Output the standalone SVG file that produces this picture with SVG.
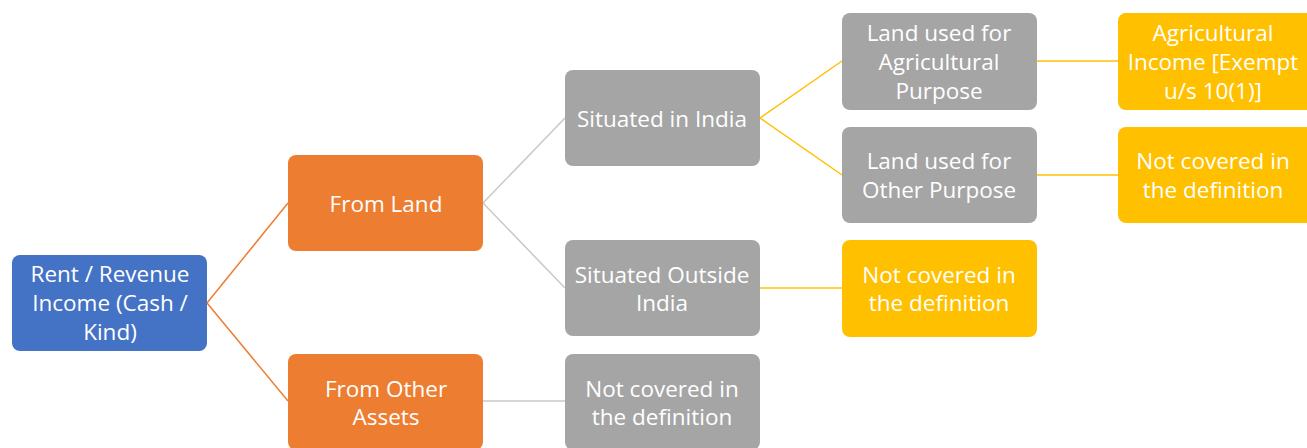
<svg xmlns="http://www.w3.org/2000/svg" width="1307" height="448" viewBox="0 0 1307 448">
<style>
.box{stroke:none}
.blue{fill:#4472C4}
.orange{fill:#ED7D31}
.gray{fill:#A5A5A5}
.yellow{fill:#FFC000}
text{font-family:"Open Sans","Liberation Sans",sans-serif;font-size:22.5px;fill:#FFFFFF;text-anchor:middle;dominant-baseline:central}
.c{fill:none;stroke-width:1.5}
.co{stroke:#ED7D31}
.cg{stroke:#C8C8C8}
.cy{stroke:#FFC000}
</style>
<rect width="1307" height="448" fill="#FFFFFF"/>
<g id="connectors">
<path class="c co" d="M207,303 L288,203"/>
<path class="c co" d="M207,303 L288,401"/>
<path class="c cg" d="M483,203 L565,118"/>
<path class="c cg" d="M483,203 L565,288"/>
<path class="c cg" d="M483,401 L565,401"/>
<path class="c cy" d="M760,118 L842,61"/>
<path class="c cy" d="M760,118 L842,175"/>
<path class="c cy" d="M760,288 L842,288"/>
<path class="c cy" d="M1036,61 L1118,61"/>
<path class="c cy" d="M1036,175 L1118,175"/>
</g>
<g id="n-rent">
<rect class="box blue" x="12" y="255" width="195" height="96" rx="8"/>
<text x="110" y="273">Rent / Revenue</text>
<text x="110" y="302">Income (Cash /</text>
<text x="110" y="331">Kind)</text>
</g>
<g id="n-fromland">
<rect class="box orange" x="288" y="155" width="195" height="96" rx="8"/>
<text x="386" y="203">From Land</text>
</g>
<g id="n-fromother">
<rect class="box orange" x="288" y="354" width="195" height="96" rx="8"/>
<text x="386" y="388">From Other</text>
<text x="386" y="416">Assets</text>
</g>
<g id="n-india">
<rect class="box gray" x="565" y="70" width="195" height="96" rx="8"/>
<text x="662" y="118">Situated in India</text>
</g>
<g id="n-outside">
<rect class="box gray" x="565" y="240" width="195" height="96" rx="8"/>
<text x="662" y="274">Situated Outside</text>
<text x="662" y="302">India</text>
</g>
<g id="n-notcovered-gray">
<rect class="box gray" x="565" y="354" width="195" height="96" rx="8"/>
<text x="662" y="388">Not covered in</text>
<text x="662" y="416">the definition</text>
</g>
<g id="n-agri">
<rect class="box gray" x="842" y="13" width="195" height="97" rx="8"/>
<text x="939" y="32">Land used for</text>
<text x="939" y="61">Agricultural</text>
<text x="939" y="90">Purpose</text>
</g>
<g id="n-otherpurpose">
<rect class="box gray" x="842" y="127" width="195" height="96" rx="8"/>
<text x="939" y="160">Land used for</text>
<text x="939" y="189">Other Purpose</text>
</g>
<g id="n-notcovered-mid">
<rect class="box yellow" x="842" y="240" width="195" height="97" rx="8"/>
<text x="939" y="274">Not covered in</text>
<text x="939" y="302">the definition</text>
</g>
<g id="n-agriincome">
<rect class="box yellow" x="1118" y="13" width="197" height="97" rx="8"/>
<text x="1213" y="32">Agricultural</text>
<text x="1213" y="61">Income [Exempt</text>
<text x="1213" y="90">u/s 10(1)]</text>
</g>
<g id="n-notcovered-right">
<rect class="box yellow" x="1118" y="127" width="197" height="96" rx="8"/>
<text x="1213" y="160">Not covered in</text>
<text x="1213" y="189">the definition</text>
</g>
</svg>
